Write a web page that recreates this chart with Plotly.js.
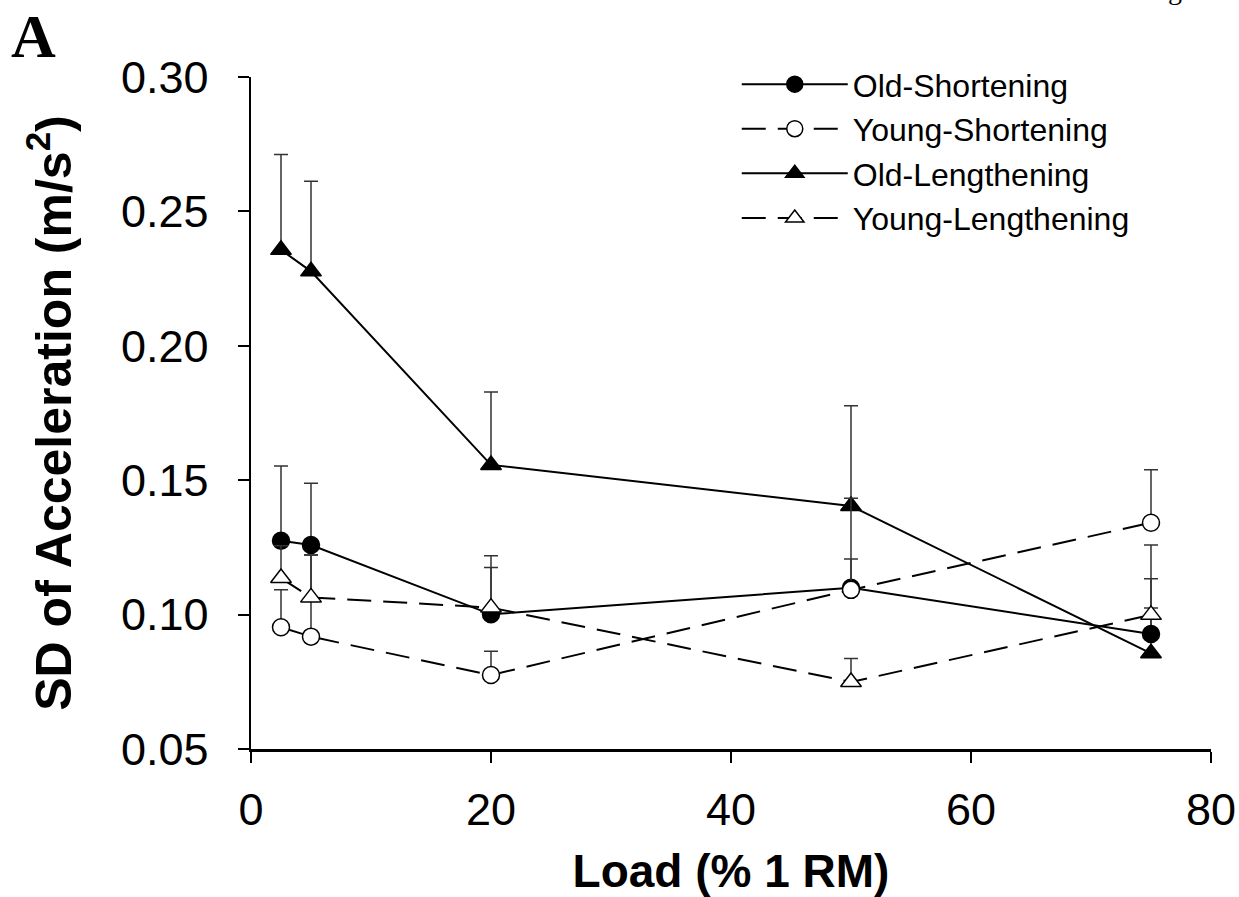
<!DOCTYPE html>
<html>
<head>
<meta charset="utf-8">
<script src="https://cdn.plot.ly/plotly-3.0.1.min.js"></script>
<style>html,body{margin:0;padding:0;background:#fff;}#chart{width:1239px;height:897px;}</style>
</head>
<body>
<div id="chart"></div>
<script>
// Load (% 1RM)
const loads = [2.5, 5, 20, 50, 75];

// SD of acceleration (m/s^2) means and upward SD error
const oldShortening = [0.1275, 0.1259, 0.1001, 0.1100, 0.0928];
const oldShorteningErr = [0.0278, 0.0230, 0.0174, 0.0333, 0.0097];

const youngShortening = [0.0953, 0.0918, 0.0775, 0.1092, 0.1342];
const youngShorteningErr = [0.0139, 0.0304, 0.0089, 0.0115, 0.0197];

const oldLengthening = [0.2357, 0.2277, 0.1557, 0.1404, 0.0856];
const oldLengtheningErr = [0.0355, 0.0335, 0.0271, 0.0373, 0.0403];

const youngLengthening = [0.1136, 0.1064, 0.1026, 0.0749, 0.0999];
const youngLengtheningErr = [0.0120, 0.0158, 0.0193, 0.0088, 0.0134];

const seriesNames = ['Old-Shortening', 'Young-Shortening', 'Old-Lengthening', 'Young-Lengthening'];
const xTickVals = [0, 20, 40, 60, 80];
const yTickVals = [0.05, 0.10, 0.15, 0.20, 0.25, 0.30];

const FONT = 'Liberation Sans, Arial, sans-serif';

function errBar(arr) {
  return {type: 'data', array: arr, arrayminus: arr.map(() => 0), symmetric: false,
          color: '#333', thickness: 1.5, width: 7};
}

function trace(name, y, err, symbol, filled, dash, rank) {
  return {
    type: 'scatter', mode: 'lines+markers', name: name, x: loads, y: y,
    error_y: errBar(err),
    line: {color: '#000', width: 2, dash: dash},
    marker: {symbol: symbol, size: symbol.indexOf('triangle') === 0 ? 18 : 17,
             color: filled ? '#000' : '#fff', line: {color: '#000', width: 1.5}},
    legendrank: rank, cliponaxis: false
  };
}

const data = [
  trace(seriesNames[2], oldLengthening, oldLengtheningErr, 'triangle-up', true, 'solid', 3),
  trace(seriesNames[0], oldShortening, oldShorteningErr, 'circle', true, 'solid', 1),
  trace(seriesNames[1], youngShortening, youngShorteningErr, 'circle', false, '24px,12px', 2),
  trace(seriesNames[3], youngLengthening, youngLengtheningErr, 'triangle-up', false, '24px,12px', 4)
];

const layout = {
  width: 1239, height: 897,
  margin: {l: 251, r: 28, t: 77, b: 148, pad: 0},
  paper_bgcolor: '#fff', plot_bgcolor: '#fff',
  font: {family: FONT, color: '#000'},
  showlegend: true,
  legend: {x: 0.506, y: 1.03, xanchor: 'left', yanchor: 'top', bgcolor: 'rgba(0,0,0,0)',
           font: {family: FONT, size: 32, color: '#000'}, itemwidth: 106, tracegroupgap: 0,
           traceorder: 'normal'},
  xaxis: {
    range: [0, 80], tickvals: xTickVals, ticktext: xTickVals.map(String),
    showgrid: false, zeroline: false, showline: true, linecolor: '#000', linewidth: 2.5,
    ticks: 'outside', ticklen: 11, tickwidth: 2, tickcolor: '#000',
    tickfont: {family: FONT, size: 45, color: '#000'}, ticklabelstandoff: 8,
    title: {text: '<b>Load (% 1 RM)</b>', font: {family: FONT, size: 46, color: '#000'}, standoff: 36},
    automargin: false, fixedrange: true
  },
  yaxis: {
    range: [0.05, 0.30], tickvals: yTickVals, ticktext: yTickVals.map(v => v.toFixed(2)),
    showgrid: false, zeroline: false, showline: true, linecolor: '#000', linewidth: 2.5,
    ticks: 'outside', ticklen: 11, tickwidth: 2, tickcolor: '#000',
    tickfont: {family: FONT, size: 45, color: '#000'}, ticklabelstandoff: 20,
    title: {text: '<b>SD of Acceleration (m/s<sup>2</sup>)</b>', font: {family: FONT, size: 50, color: '#000'}, standoff: 34},
    automargin: false, fixedrange: true
  },
  annotations: [
    {text: '<b>A</b>', xref: 'paper', yref: 'paper', x: -0.252, y: 1.115, xanchor: 'left', yanchor: 'top',
     showarrow: false, font: {family: 'Liberation Serif, Times New Roman, serif', size: 62, color: '#000'}},
    {text: 'g', xref: 'paper', yref: 'paper', x: 0.953, y: 1.104, xanchor: 'left', yanchor: 'bottom',
     showarrow: false, font: {family: 'Liberation Serif, Times New Roman, serif', size: 28, color: '#000'}}
  ]
};

Plotly.newPlot('chart', data, layout, {displayModeBar: false, staticPlot: true});
</script>
</body>
</html>
